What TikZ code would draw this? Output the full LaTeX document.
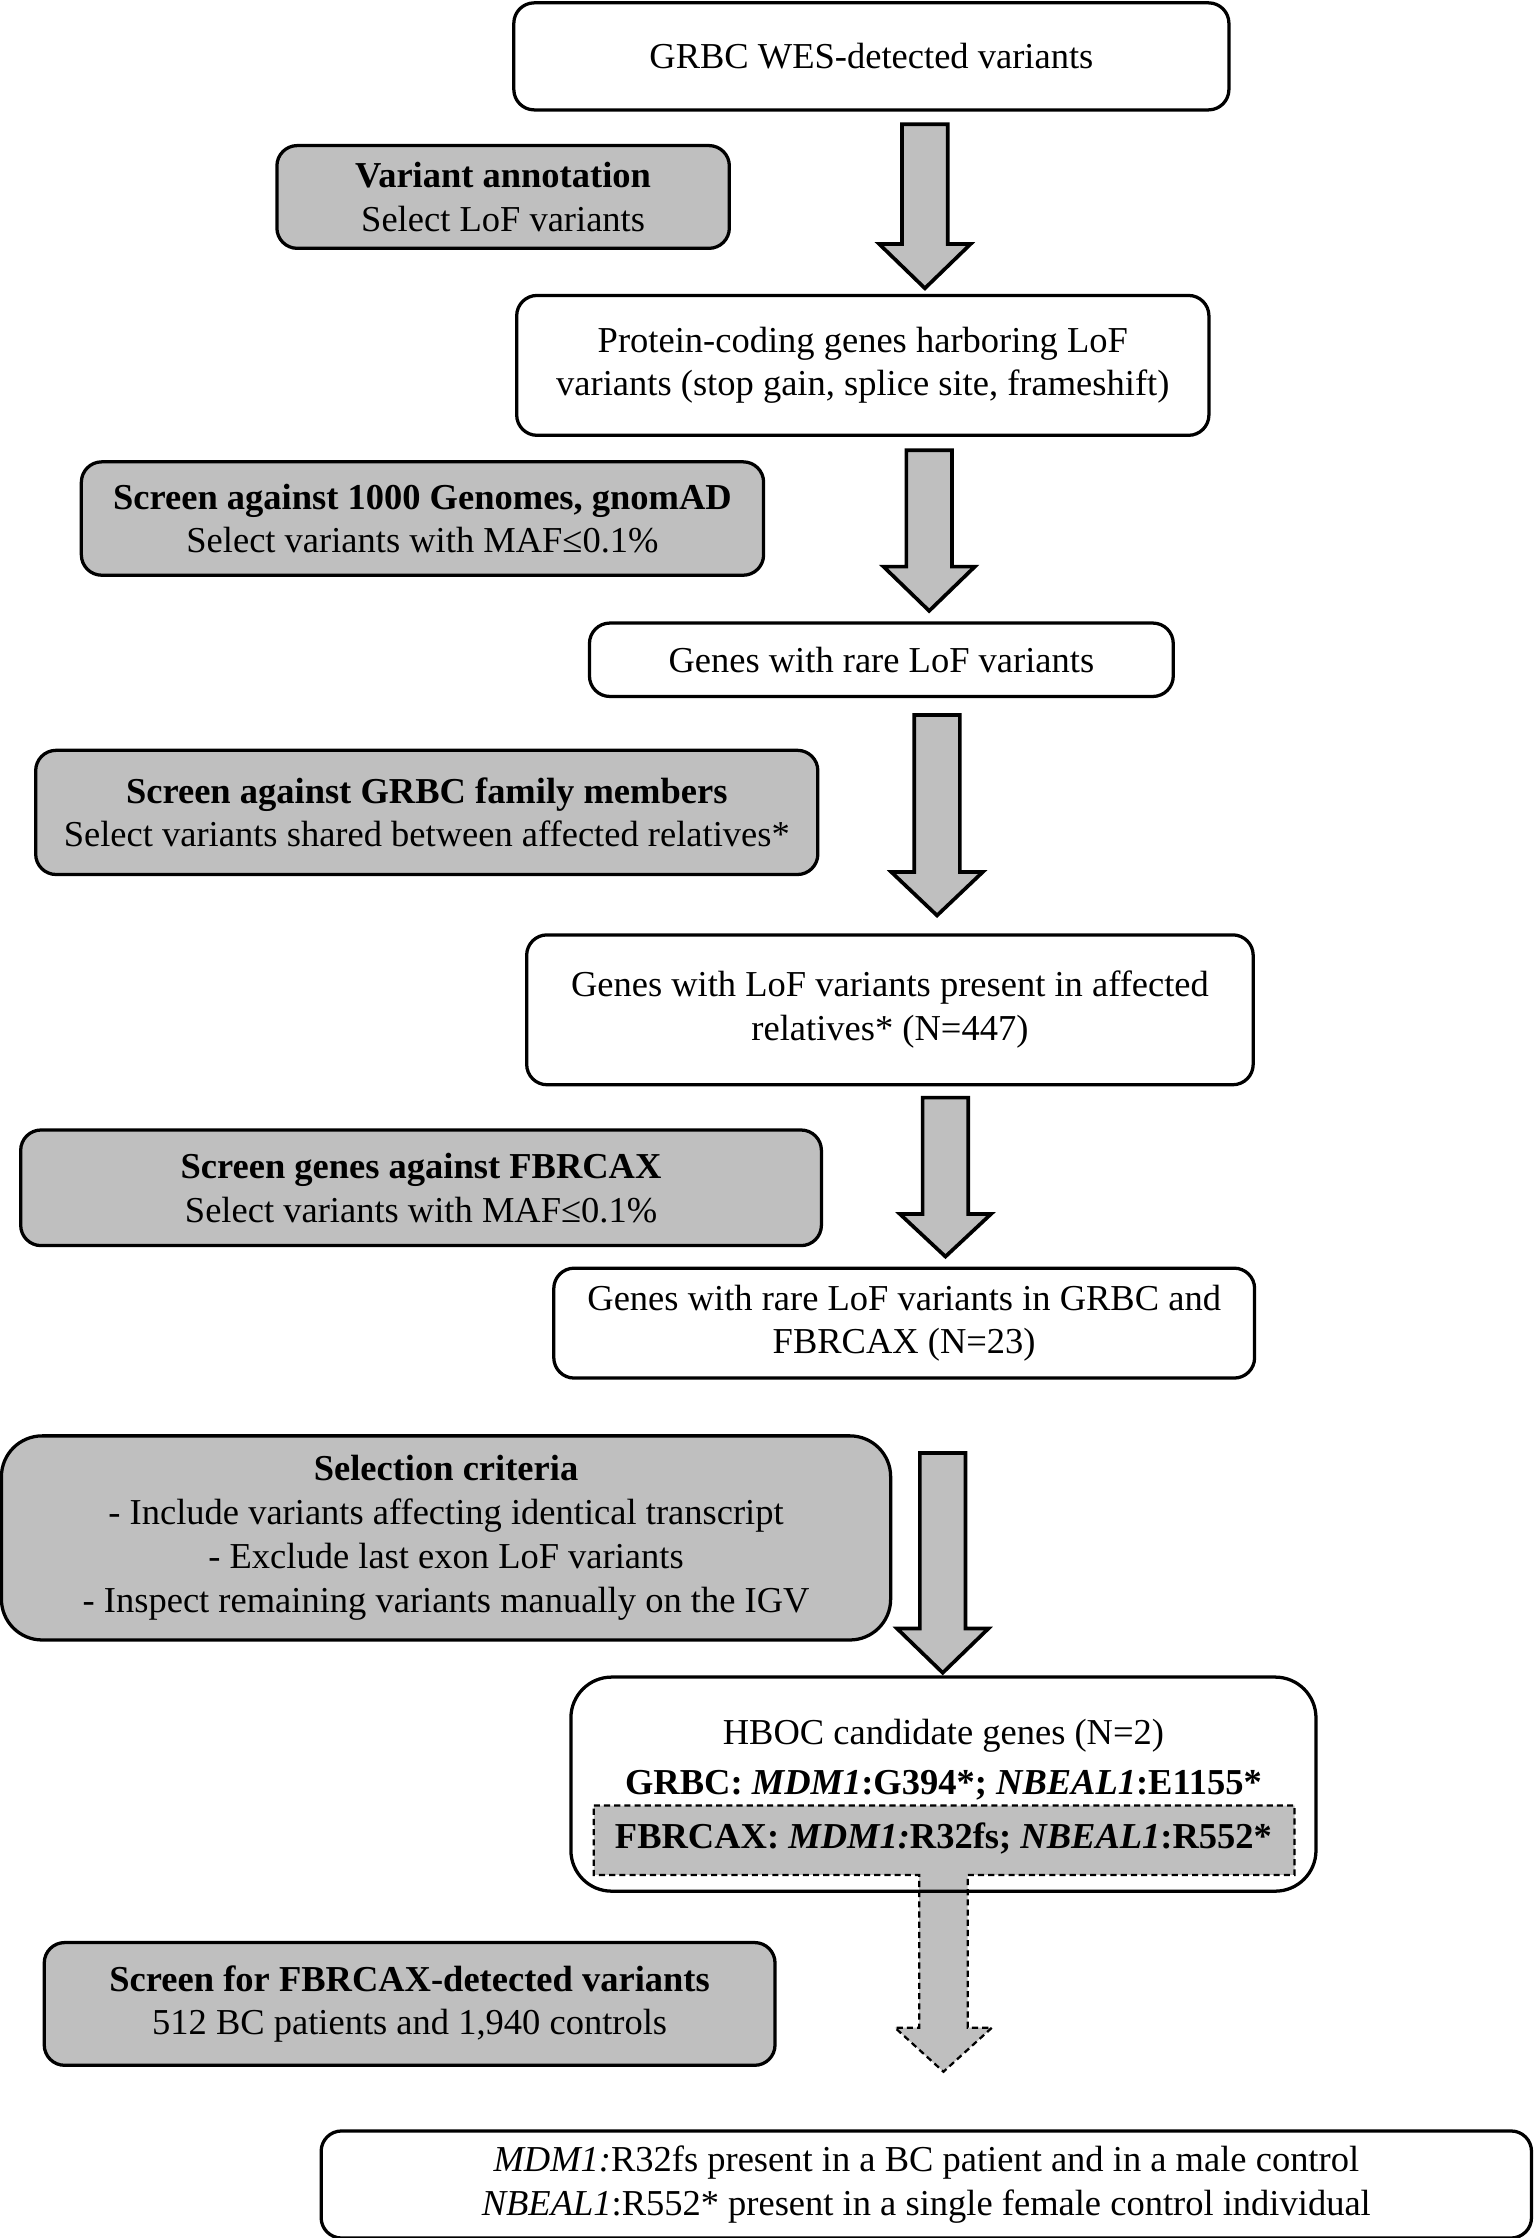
\documentclass[tikz,border=0pt]{standalone}
\usepackage{fontspec}
\setmainfont{Liberation Serif}
\definecolor{boxgray}{HTML}{BFBFBF}
\newcommand\myarrow[4]{%
  \draw[arr] ({#1-16},#2) -- ({#1+16},#2) -- ({#1+16},#3) -- ({#1+32},#3) -- (#1,#4) -- ({#1-32},#3) -- ({#1-16},#3) -- cycle;}
\begin{document}
\begin{tikzpicture}[x=0.7pt,y=-0.7pt,
  every node/.style={font=\fontsize{17.9}{21.4}\selectfont, align=center, inner sep=0pt},
  wbox/.style={draw, line width=1.6pt, fill=white, rounded corners=10pt},
  gbox/.style={draw, line width=1.6pt, fill=boxgray, rounded corners=10pt},
  arr/.style={draw, line width=1.8pt, fill=boxgray, line join=miter},
  darr/.style={draw, line width=1.1pt, fill=boxgray, dash pattern=on 3pt off 2pt}]
\useasboundingbox[fill=white] (0,0) rectangle (1076,1568);

\node[wbox, minimum width=350.7pt, minimum height=52.5pt] (b1) at (610.5,39.5) {GRBC WES-detected variants};
\node[gbox, minimum width=221.9pt, minimum height=50.4pt] (g1) at (352.5,138) {\textbf{Variant annotation}\\Select LoF variants};
\node[wbox, minimum width=339.5pt, minimum height=68.6pt] (b2) at (604.5,256) {Protein-coding genes harboring LoF\\variants (stop gain, splice site, frameshift)};
\node[gbox, minimum width=334.6pt, minimum height=55.6pt] (g2) at (296,363.3) {\textbf{Screen against 1000 Genomes, gnomAD}\\Select variants with MAF≤0.1\%};
\node[wbox, minimum width=286.3pt, minimum height=36pt] (b3) at (617.5,462.25) {Genes with rare LoF variants};
\node[gbox, minimum width=383.6pt, minimum height=60.9pt] (g3) at (299,569.2) {\textbf{Screen against GRBC family members}\\Select variants shared between affected relatives*};
\node[wbox, minimum width=356.3pt, minimum height=73.5pt] (b4) at (623.5,707.5) {Genes with LoF variants present in affected\\relatives* (N=447)};
\node[gbox, minimum width=392.7pt, minimum height=56.7pt] (g4) at (295,832.2) {\textbf{Screen genes against FBRCAX}\\Select variants with MAF≤0.1\%};
\node[wbox, minimum width=343.7pt, minimum height=53.9pt] (b5) at (633.5,927) {Genes with rare LoF variants in GRBC and\\FBRCAX (N=23)};
\node[gbox, rounded corners=20pt, minimum width=436.1pt, minimum height=100.1pt, font=\fontsize{17.9}{21.5}\selectfont] (g5) at (312.5,1077.5) {\textbf{Selection criteria}\\- Include variants affecting identical transcript\\- Exclude last exon LoF variants\\- Inspect remaining variants manually on the IGV};

\node[draw=none, fill=white, rounded corners=20pt, minimum width=365.4pt, minimum height=105pt, outer sep=0pt] (hboc) at (661,1250) {};
\draw[darr] (416,1265) -- (907,1265) -- (907,1313.6) -- (678,1313.6) -- (678,1420.6) -- (695,1420.6) -- (661,1451.5) -- (627,1420.6) -- (644,1420.6) -- (644,1313.6) -- (416,1313.6) -- cycle;
\draw[line width=1.6pt, rounded corners=20pt] (hboc.south west) rectangle (hboc.north east);
\node (hbt) at (661,1216) {HBOC candidate genes (N=2)};
\node (hbg) at (661,1251) {\textbf{GRBC: \textit{MDM1}:G394*; \textit{NBEAL1}:E1155*}};
\node (hbf) at (661,1288) {\textbf{FBRCAX: \textit{MDM1:}R32fs; \textit{NBEAL1}:R552*}};

\node[gbox, minimum width=358.4pt, minimum height=60.2pt] (g6) at (287,1404) {\textbf{Screen for FBRCAX-detected variants}\\512 BC patients and 1,940 controls};
\node[wbox, minimum width=593.6pt, minimum height=52.5pt] (fin) at (649,1530.5) {\textit{MDM1:}R32fs present in a BC patient and in a male control\\\textit{NBEAL1}:R552* present in a single female control individual};

\myarrow{648}{87}{171}{202}
\myarrow{651}{315.4}{397}{428}
\myarrow{656.5}{501}{611}{641.4}
\myarrow{662.4}{769}{850.5}{880.4}
\myarrow{660.5}{1018}{1141}{1172}
\end{tikzpicture}
\end{document}
